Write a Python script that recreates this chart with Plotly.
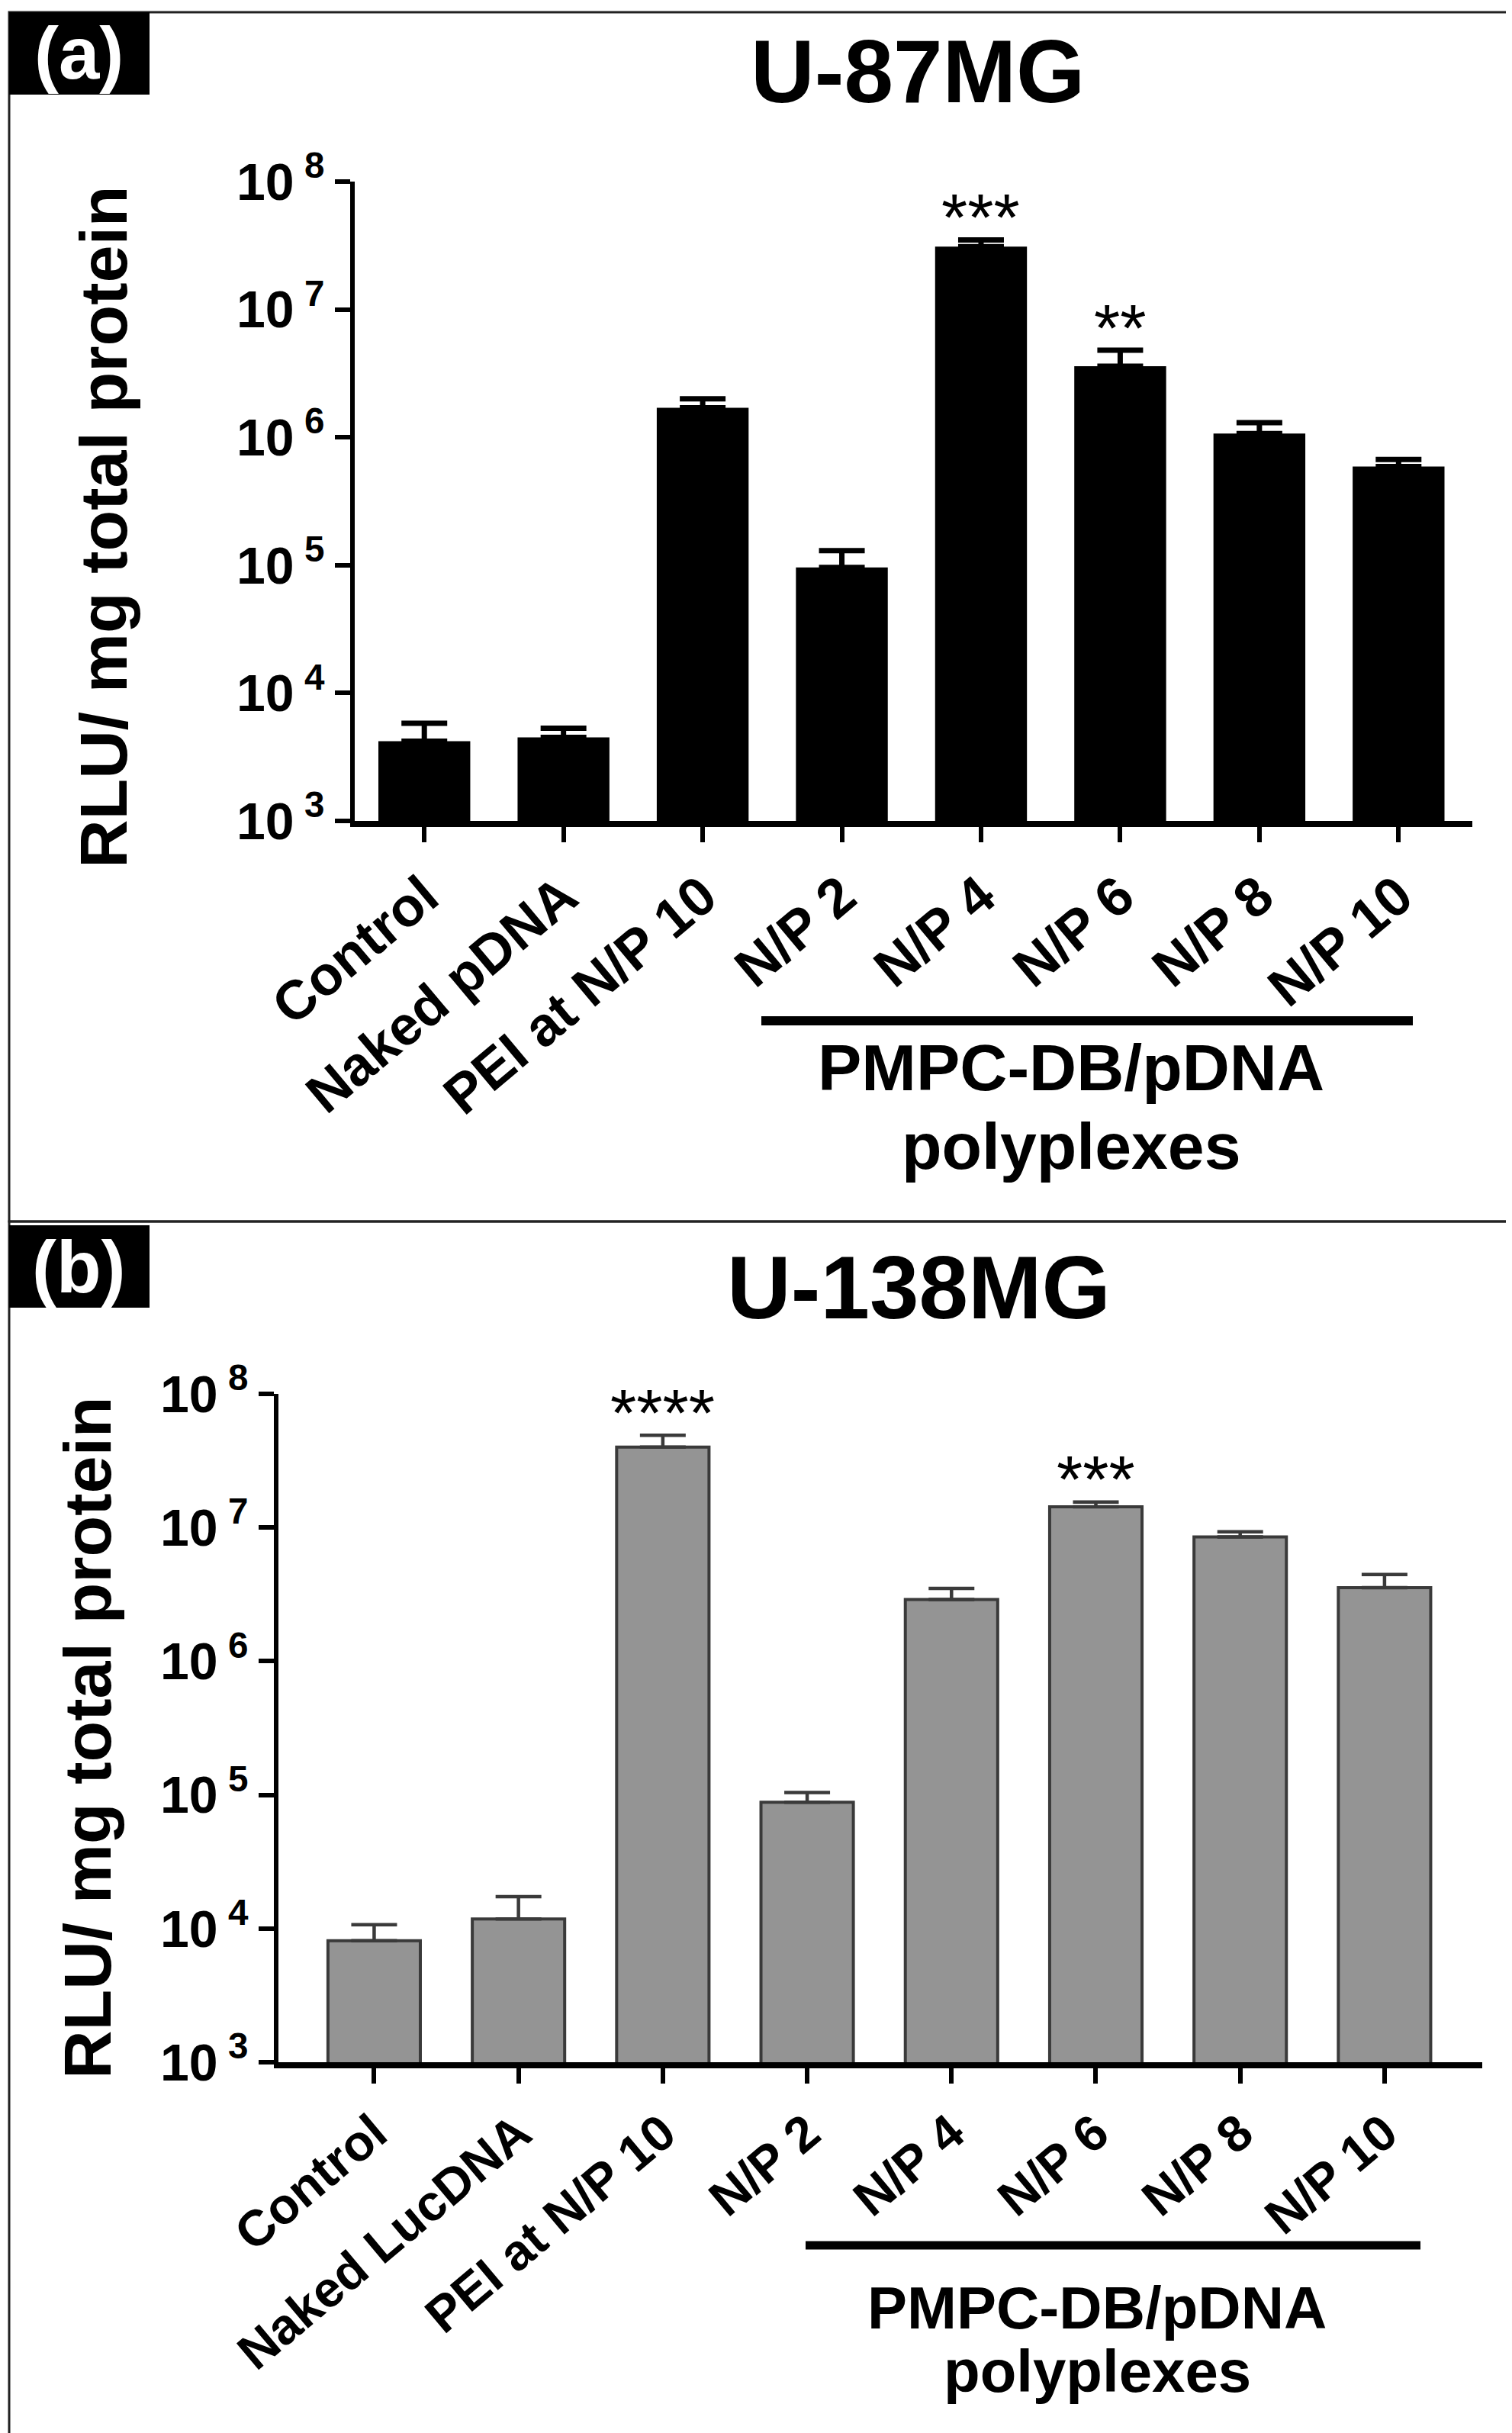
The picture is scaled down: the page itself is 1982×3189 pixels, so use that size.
import math
import plotly.graph_objects as go

W, H = 1982, 3189
FONT = "Liberation Sans, Arial, sans-serif"

# ---------------- data ----------------
cats_a = ["Control", "Naked pDNA", "PEI at N/P 10", "N/P 2", "N/P 4", "N/P 6", "N/P 8", "N/P 10"]
vals_a = [4.2e3, 4.5e3, 1.7e6, 9.6e4, 3.1e7, 3.6e6, 1.07e6, 5.9e5]
errs_a = [1.6e3, 0.8e3, 0.3e6, 3.4e4, 0.4e7, 1.2e6, 0.23e6, 0.8e5]
sig_a = ["", "", "", "", "***", "**", "", ""]

cats_b = ["Control", "Naked LucDNA", "PEI at N/P 10", "N/P 2", "N/P 4", "N/P 6", "N/P 8", "N/P 10"]
vals_b = [8.1e3, 1.18e4, 4.0e7, 8.8e4, 2.9e6, 1.43e7, 8.5e6, 3.55e6]
errs_b = [2.6e3, 5.5e3, 0.9e7, 1.6e4, 0.6e6, 0.12e7, 0.8e6, 0.9e6]
sig_b = ["", "", "****", "", "", "***", "", ""]

ytick_vals = [1e3, 1e4, 1e5, 1e6, 1e7, 1e8]
ytick_text = ["10<sup> 3</sup>", "10<sup> 4</sup>", "10<sup> 5</sup>", "10<sup> 6</sup>",
              "10<sup> 7</sup>", "10<sup> 8</sup>"]

title_a = "U-87MG"
title_b = "U-138MG"
ytitle = "RLU/ mg total protein"
group_l1 = "PMPC-DB/pDNA"
group_l2 = "polyplexes"


def px(x):
    return x / W


def py(y):
    return 1 - y / H


fig = go.Figure()

fig.add_trace(go.Bar(
    x=cats_a, y=vals_a, width=0.66,
    marker=dict(color="black", line=dict(width=0)),
    error_y=dict(type="data", array=errs_a, arrayminus=[0] * len(errs_a), symmetric=False,
                 color="black", thickness=7, width=30),
    xaxis="x", yaxis="y", showlegend=False))

fig.add_trace(go.Bar(
    x=cats_b, y=vals_b, width=0.64,
    marker=dict(color="#949494", line=dict(width=4, color="#3a3a3a")),
    error_y=dict(type="data", array=errs_b, arrayminus=[0] * len(errs_b), symmetric=False,
                 color="#3a3a3a", thickness=4.5, width=30),
    xaxis="x2", yaxis="y2", showlegend=False))

axis_common = dict(showgrid=False, zeroline=False, showline=True, linecolor="black",
                   ticks="outside", tickcolor="black", automargin=False)

fig.update_layout(
    width=W, height=H, margin=dict(l=0, r=0, t=0, b=0, pad=0, autoexpand=False),
    paper_bgcolor="white", plot_bgcolor="white", showlegend=False,
    font=dict(family=FONT, color="black"),
    xaxis=dict(domain=[px(457), px(1922)], range=[-0.5, 7.53], type="category",
               linewidth=8, ticklen=20, tickwidth=6, tickangle=-40,
               tickfont=dict(family=FONT, size=72, weight="bold"), anchor="y", **axis_common),
    yaxis=dict(domain=[py(1068), py(230)], type="log", range=[3, 8],
               tickvals=ytick_vals, ticktext=ytick_text, linewidth=6, ticklen=20, tickwidth=6,
               tickfont=dict(family=FONT, size=68, weight="bold"), anchor="x", **axis_common),
    xaxis2=dict(domain=[px(357), px(1935)], range=[-0.663, 7.677], type="category",
                linewidth=8, ticklen=20, tickwidth=6, tickangle=-40,
                tickfont=dict(family=FONT, size=66, weight="bold"), anchor="y2", **axis_common),
    yaxis2=dict(domain=[py(2695), py(1819)], type="log", range=[3, 8],
                tickvals=ytick_vals, ticktext=ytick_text, linewidth=6, ticklen=20, tickwidth=6,
                tickfont=dict(family=FONT, size=68, weight="bold"), anchor="x2", **axis_common),
)

shapes = []
# panel frames
shapes.append(dict(type="rect", xref="paper", yref="paper", x0=px(4), x1=px(1976),
                   y0=py(1593), y1=py(8), line=dict(color="#222222", width=3)))
shapes.append(dict(type="rect", xref="paper", yref="paper", x0=px(4), x1=px(1976),
                   y0=py(3184), y1=py(1593), line=dict(color="#222222", width=3)))
# label boxes
shapes.append(dict(type="rect", xref="paper", yref="paper", x0=px(4), x1=px(188),
                   y0=py(116), y1=py(8), fillcolor="black", line=dict(width=0)))
shapes.append(dict(type="rect", xref="paper", yref="paper", x0=px(4), x1=px(188),
                   y0=py(1706), y1=py(1598), fillcolor="black", line=dict(width=0)))
# group lines
shapes.append(dict(type="line", xref="paper", yref="paper", x0=px(990), x1=px(1844),
                   y0=py(1330), y1=py(1330), line=dict(color="black", width=12)))
shapes.append(dict(type="line", xref="paper", yref="paper", x0=px(1048), x1=px(1854),
                   y0=py(2935), y1=py(2935), line=dict(color="black", width=11)))
fig.update_layout(shapes=shapes)

ann = []


def text(x, y, s, size, color="black", bold=True, angle=0):
    ann.append(dict(xref="paper", yref="paper", x=px(x), y=py(y), text=s, showarrow=False,
                    xanchor="center", yanchor="middle", textangle=angle,
                    font=dict(family=FONT, size=size, color=color,
                              weight="bold" if bold else "normal")))


text(95, 62, "(a)", 96, color="white")
text(95, 1652, "(b)", 96, color="white")
text(1195, 86, title_a, 116)
text(1196, 1680, title_b, 116)
text(127, 683, ytitle, 88, angle=-90)
text(106, 2270, ytitle, 88, angle=-90)
text(1396, 1391, group_l1, 86)
text(1396, 1494, group_l2, 86)
text(1430, 3017, group_l1, 78)
text(1430, 3100, group_l2, 78)

for c, v, e, s in zip(cats_a, vals_a, errs_a, sig_a):
    if s:
        ann.append(dict(xref="x", yref="y", x=c, y=math.log10(v + e), text=s, showarrow=False,
                        xanchor="center", yanchor="middle", yshift=30,
                        font=dict(family=FONT, size=88, color="black")))
for c, v, e, s in zip(cats_b, vals_b, errs_b, sig_b):
    if s:
        ann.append(dict(xref="x2", yref="y2", x=c, y=math.log10(v + e), text=s, showarrow=False,
                        xanchor="center", yanchor="middle", yshift=30,
                        font=dict(family=FONT, size=88, color="black")))

fig.update_layout(annotations=ann)

fig.write_html("out.html")
